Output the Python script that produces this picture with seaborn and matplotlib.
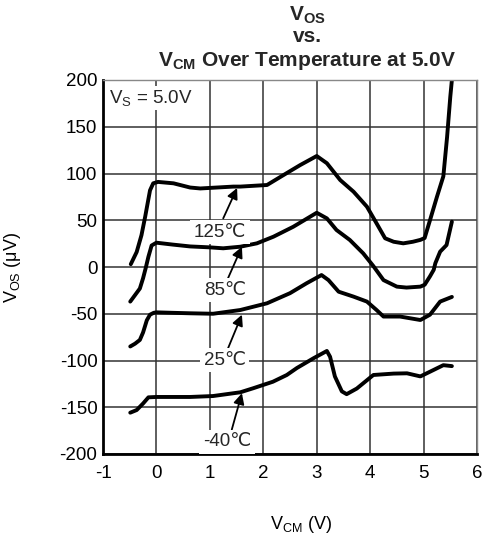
import numpy as np
import pandas as pd
import matplotlib
matplotlib.use("Agg")
import matplotlib.pyplot as plt
import seaborn as sns

# ---- data ----
x_125 = [-0.48, -0.37, -0.28, -0.21, -0.12, -0.06, 0.03, 0.32, 0.63, 0.82, 1.44, 1.57, 2.07,
         2.38, 2.69, 3.0, 3.19, 3.44, 3.69, 3.94, 4.12, 4.28, 4.44, 4.62, 4.8, 4.94, 5.02,
         5.12, 5.25, 5.37, 5.44, 5.5, 5.53]
y_125 = [3, 16, 34, 54, 82, 89.5, 91, 89.5, 85, 84, 86, 86, 87.7,
         98.4, 109, 118.7, 111, 93, 80.5, 64.5, 46.7, 30.7, 27, 25.3, 27, 29, 31,
         50, 75, 97, 139, 182, 200]

x_85 = [-0.49, -0.4, -0.31, -0.25, -0.2, -0.15, -0.09, 0.0, 0.3, 0.63, 1.0, 1.25, 1.57,
        1.88, 2.19, 2.56, 3.0, 3.19, 3.37, 3.62, 3.87, 4.06, 4.25, 4.5, 4.68, 4.94, 5.02,
        5.12, 5.19, 5.22, 5.31, 5.43, 5.53]
y_85 = [-37, -30, -23, -12, -1, 11, 23, 26, 24, 22, 21, 20, 21.7,
        25.3, 32.4, 43, 58, 52, 39.6, 28.9, 14.6, 1, -14, -21, -22, -21, -19,
        -10, -3, 4, 16.4, 23.5, 48.5]

x_25 = [-0.49, -0.4, -0.31, -0.25, -0.18, -0.12, -0.05, 0.0, 0.3, 0.63, 1.06, 1.57, 2.07,
        2.5, 2.81, 3.09, 3.22, 3.41, 3.69, 3.94, 4.12, 4.25, 4.56, 4.94, 5.12, 5.31, 5.53]
y_25 = [-85, -82, -78, -70, -57, -51, -49, -48.5, -49, -49.5, -50, -46, -38.8,
        -28, -17.4, -8.6, -14, -26.4, -31.7, -37, -46, -53, -53, -56.7, -51, -37, -32]

x_m40 = [-0.49, -0.37, -0.25, -0.15, 0.0, 0.63, 1.06, 1.57, 1.81, 2.18, 2.44, 2.63,
         2.94, 3.19, 3.25, 3.34, 3.47, 3.56, 3.75, 4.06, 4.44, 4.69, 4.94, 5.12, 5.37, 5.53]
y_m40 = [-155.8, -153, -146, -139.4, -139, -139, -138, -134, -129.7, -122.7, -115.5, -108,
         -97.6, -89.8, -96, -117, -133, -136, -130, -115.5, -114, -113.7, -117, -112, -105, -106]

temps = ["125℃", "85℃", "25℃", "-40℃"]
series_x = [x_125, x_85, x_25, x_m40]
series_y = [y_125, y_85, y_25, y_m40]

# label positions (text center) and arrow tail/tip
label_xy = [(1.19, 37), (1.28, -25), (1.28, -99.5), (1.32, -187)]
arrow_tail = [(1.25, 52), (1.34, -12), (1.34, -87), (1.41, -174)]
arrow_tip = [(1.51, 84.5), (1.6, 21.7), (1.6, -51), (1.6, -135)]

x_ticks = [-1, 0, 1, 2, 3, 4, 5, 6]
y_ticks = [-200, -150, -100, -50, 0, 50, 100, 150, 200]

# ---- style ----
sns.set_theme(style="white")
plt.rcParams["font.family"] = ["Liberation Sans", "DejaVu Sans"]
plt.rcParams["axes.unicode_minus"] = False
plt.rcParams["mathtext.fontset"] = "custom"
plt.rcParams["mathtext.rm"] = "Liberation Sans"
plt.rcParams["mathtext.it"] = "Liberation Sans"
plt.rcParams["mathtext.bf"] = "Liberation Sans:bold"

rows = []
for t, xs, ys in zip(temps, series_x, series_y):
    for xv, yv in zip(xs, ys):
        rows.append({"temp": t, "vcm": xv, "vos": yv})
df = pd.DataFrame(rows)

fig = plt.figure(figsize=(4.85, 5.39), dpi=100)
ax = fig.add_axes([103 / 485, 1 - 454 / 539, 374 / 485, 374 / 539])

sns.lineplot(data=df, x="vcm", y="vos", hue="temp", units="temp", estimator=None,
             sort=False, palette=["black"] * 4, linewidth=2.8, legend=False, ax=ax)
for ln in ax.get_lines():
    ln.set_solid_joinstyle("round")
    ln.set_solid_capstyle("round")

ax.set_xlim(-1, 6)
ax.set_ylim(-200, 200)
ax.set_xticks(x_ticks)
ax.set_yticks(y_ticks)
ax.set_xticklabels([str(v) for v in x_ticks])
ax.set_yticklabels([str(v) for v in y_ticks])
ax.tick_params(axis="both", length=0, labelsize=13.5, colors="black")
ax.tick_params(axis="x", pad=8)
ax.tick_params(axis="y", pad=4)
ax.grid(True, color="#333333", linewidth=1.1)
ax.set_axisbelow(True)

for side in ["left", "bottom"]:
    ax.spines[side].set_color("black")
    ax.spines[side].set_linewidth(2.0)
for side in ["top", "right"]:
    ax.spines[side].set_color("#888888")
    ax.spines[side].set_linewidth(1.0)

ax.set_xlabel(r"V$_{\mathrm{CM}}$ (V)", fontsize=13, color="black")
ax.set_ylabel(r"V$_{\mathrm{OS}}$ (μV)", fontsize=13, color="black")
ax.xaxis.set_label_coords(0.53, -0.16)
ax.yaxis.set_label_coords(-0.215, 0.5)

for t, lxy, tail, tip in zip(temps, label_xy, arrow_tail, arrow_tip):
    ax.annotate("", xy=tip, xytext=tail,
                arrowprops=dict(arrowstyle="-|>", color="black", lw=1.3,
                                mutation_scale=16, shrinkA=0, shrinkB=0), zorder=4)
    ax.text(lxy[0], lxy[1], t, ha="center", va="center", fontsize=13.5,
            bbox=dict(facecolor="white", edgecolor="none", pad=2.5), zorder=5)

ax.text(-0.88, 191, r"V$_{\mathrm{S}}$ = 5.0V", ha="left", va="top", fontsize=13.5,
        bbox=dict(facecolor="white", edgecolor="none", pad=1.5), zorder=5)

cx = 307 / 485
fig.text(cx, 1 - 21 / 539, r"$\mathbf{V_{OS}}$", ha="center", va="baseline",
         fontsize=15, fontweight="bold")
fig.text(cx, 1 - 42 / 539, "vs.", ha="center", va="baseline", fontsize=15, fontweight="bold")
fig.text(cx, 1 - 66 / 539, r"$\mathbf{V_{CM}}$ Over Temperature at 5.0V", ha="center",
         va="baseline", fontsize=15, fontweight="bold")

fig.savefig("out.png", dpi=100)
